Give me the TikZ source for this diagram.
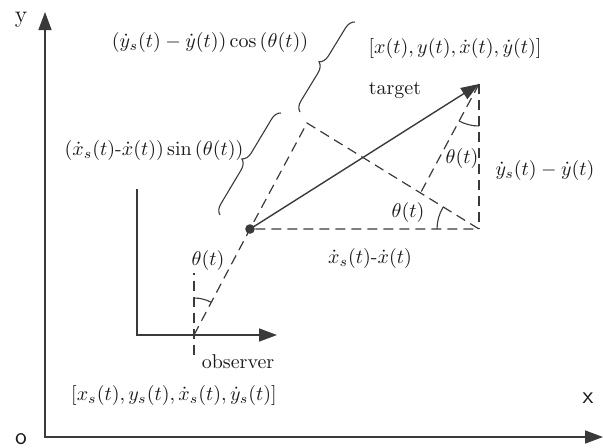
\documentclass[tikz,border=0pt]{standalone}
\usepackage{amsmath}
\usetikzlibrary{arrows.meta,calc,angles,decorations.pathreplacing}
\definecolor{Ink}{HTML}{3A3A3A}
\definecolor{Txt}{HTML}{1A1A1A}

\begin{document}
\begin{tikzpicture}[x=0.5pt,y=0.5pt,>={Triangle[length=9pt,width=6.5pt]},
  axisline/.style={Ink,line width=0.75pt},
  guide/.style={Ink,line width=0.6pt,dash pattern=on 5pt off 3pt},
  curly/.style={Ink,line width=0.55pt,decorate,decoration={brace,amplitude=5pt}},
  angmark/.style={draw=Ink,line width=0.55pt},
  lbl/.style={text=Txt,inner sep=1pt}]
\useasboundingbox (0,0) rectangle (603,447);
% world axes
\coordinate (o) at (45,10);
\coordinate (ytip) at (45,435);
\coordinate (xtip) at (603,10);
\draw[axisline,<->] (ytip) -- (o) -- (xtip);
\node[lbl,font=\large] (ylab) at (21,427) {y};
\node[lbl,font=\sffamily\large] (olab) at (21,8) {o};
\node[lbl,font=\sffamily\large] (xlab) at (588,49) {x};
% observer frame
\coordinate (fy) at (137,258);
\coordinate (fo) at (137,112);
\coordinate (fx) at (277,112);
\draw[axisline,->] (fy) -- (fo) -- (fx);
% geometry points
\coordinate (O) at (194,112);
\coordinate (Otop) at (194,174);
\coordinate (Obot) at (194,92);
\coordinate (D) at (250,218);
\coordinate (F) at (307,324);
\coordinate (T) at (479,363);
\coordinate (C) at (479,218);
\coordinate (G) at (421,255);
\draw[guide] (Obot) -- (Otop);
\draw[guide] (O) -- (D) -- (F) -- (C) -- (D);
\draw[guide] (T) -- (C);
\draw[guide] (T) -- (G);
\draw[Ink,line width=0.7pt,->] (D) -- (T);
\fill[Ink] (D) circle (4.8);
% angle marks
\pic[angmark,angle radius=18.5pt] {angle=D--O--Otop};
\pic[angmark,angle radius=21pt] {angle=G--T--C};
\pic[angmark,angle radius=21pt] {angle=F--C--D};
% braces
\coordinate (b1s) at (220,232);
\coordinate (b1e) at (281,334);
\coordinate (b2s) at (300,335);
\coordinate (b2e) at (355,425);
\draw[curly] (b1s) -- (b1e);
\draw[curly] (b2s) -- (b2e);
% labels
\node[lbl] (cosl) at (210,405) {$\left(\dot{y}_{s}(t)-\dot{y}(t)\right)\cos\left(\theta(t)\right)$};
\node[lbl] (sinl) at (154,297) {$\left(\dot{x}_{s}(t)\mbox{-}\dot{x}(t)\right)\sin\left(\theta(t)\right)$};
\node[lbl] (tstate) at (455,399) {$\left[x(t),y(t),\dot{x}(t),\dot{y}(t)\right]$};
\node[lbl] (tname) at (395,357) {target};
\node[lbl] (dyl) at (545,277) {$\dot{y}_{s}(t)-\dot{y}(t)$};
\node[lbl] (dxl) at (370,189) {$\dot{x}_{s}(t)\mbox{-}\dot{x}(t)$};
\node[lbl] (oname) at (238,85) {observer};
\node[lbl] (ostate) at (174,52) {$\left[x_{s}(t),y_{s}(t),\dot{x}_{s}(t),\dot{y}_{s}(t)\right]$};
\node[lbl] (thO) at (208,187) {$\theta(t)$};
\node[lbl] (thT) at (462,289) {$\theta(t)$};
\node[lbl] (thC) at (408,235) {$\theta(t)$};
\end{tikzpicture}
\end{document}
